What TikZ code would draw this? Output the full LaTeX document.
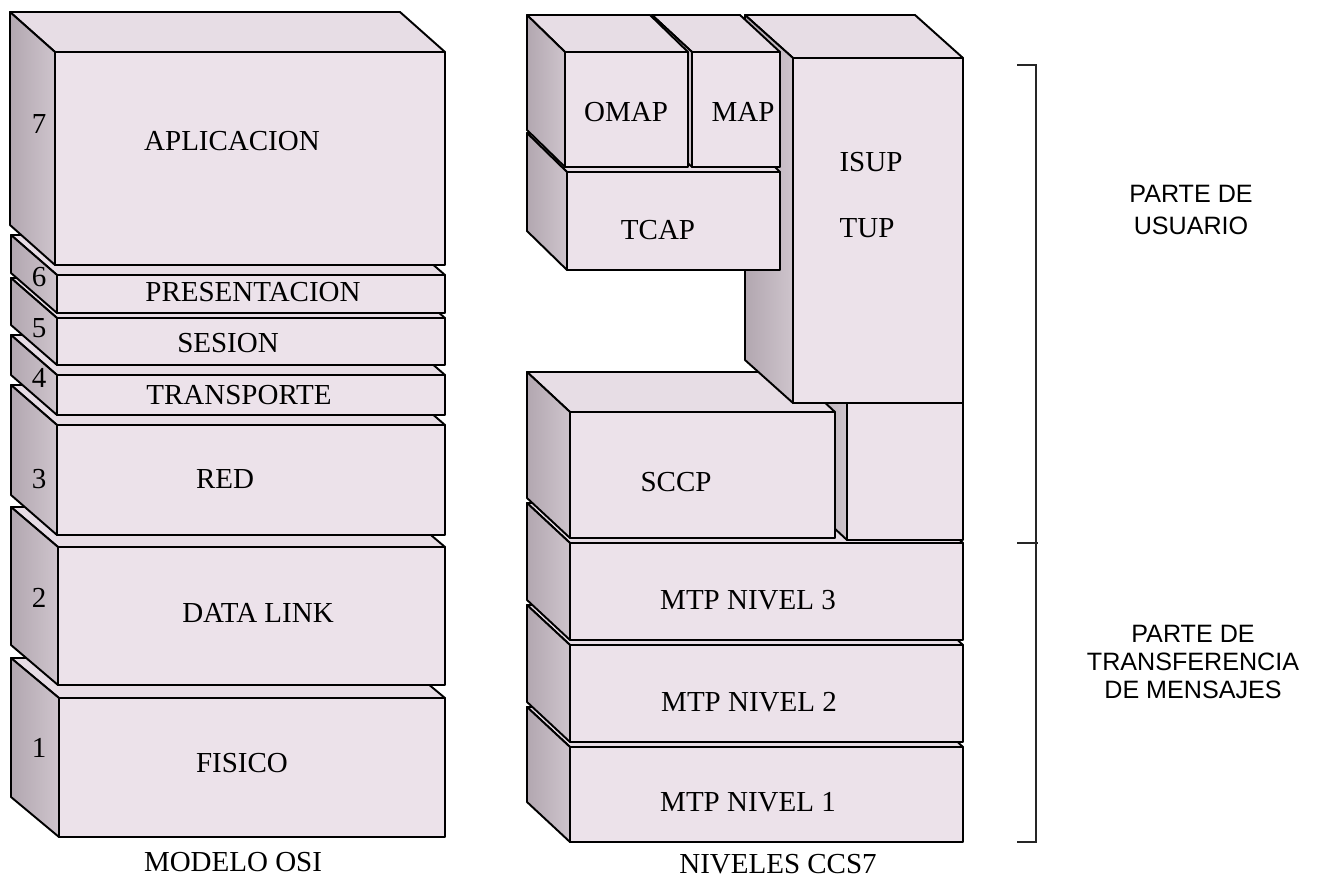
\documentclass[tikz,border=0pt]{standalone}
\usepackage{fontspec}
\setmainfont{Liberation Serif}
\newfontfamily\ladofont{Liberation Sans}
\usetikzlibrary{positioning}

\definecolor{caraf}{RGB}{236,226,234}
\definecolor{carat}{RGB}{231,221,229}
\definecolor{ladoa}{RGB}{178,167,176}
\definecolor{ladob}{RGB}{206,196,204}

% bloque 3D: esquina sup-izq y inf-der de la cara frontal, profundidad dx dy (px)
\newcommand{\bloque}[6]{%
  \draw[sup]   (#1,#2) -- ++(-#5,-#6) -- ++({#3-#1},0) -- (#3,#2) -- cycle;
  \draw[lado]  (#1,#2) -- ++(-#5,-#6) -- ++(0,{#4-#2}) -- (#1,#4) -- cycle;
  \draw[frente] (#1,#2) rectangle (#3,#4);
}

\begin{document}
\begin{tikzpicture}[
  x=0.02cm, y=-0.02cm,
  frente/.style={fill=caraf, draw=black, line width=1.1pt, line join=round},
  sup/.style={fill=carat, draw=black, line width=1.1pt, line join=round},
  lado/.style={left color=ladoa, right color=ladob, draw=black, line width=1.1pt, line join=round},
  etiq/.style={font=\fontsize{16.5}{18}\selectfont, inner sep=0pt},
  parte/.style={font=\ladofont\fontsize{14.3}{16.2}\selectfont, align=center, inner sep=0pt},
  corchete/.style={draw=black!85, line width=1.2pt}
]
\useasboundingbox (0,0) rectangle (1318,880);

% modelo OSI, de abajo hacia arriba
\bloque{59}{698}{445}{837}{48}{40}
\bloque{58}{547}{445}{685}{47}{40}
\bloque{57}{425}{445}{535}{46}{40}
\bloque{57}{375}{445}{415}{46}{40}
\bloque{57}{318}{445}{365}{46}{40}
\bloque{57}{275}{445}{313}{46}{40}
\bloque{55}{52}{445}{265}{45}{40}

\node[etiq] (n1) at (39,748) {1};
\node[etiq] (n2) at (39,598) {2};
\node[etiq] (n3) at (39,479) {3};
\node[etiq] (n4) at (39,378) {4};
\node[etiq] (n5) at (39,328) {5};
\node[etiq] (n6) at (39,277) {6};
\node[etiq] (n7) at (39,124) {7};

\node[etiq] (fis)  at (242,763) {FISICO};
\node[etiq] (dl)   at (258,613) {DATA LINK};
\node[etiq] (red)  at (225,479) {RED};
\node[etiq] (tra)  at (239,395) {TRANSPORTE};
\node[etiq] (ses)  at (228,343) {SESION};
\node[etiq] (pre)  at (253,292) {PRESENTACION};
\node[etiq] (apl)  at (232,141) {APLICACION};
\node[etiq] (osi)  at (233,862) {MODELO OSI};

% niveles CCS7
\bloque{570}{747}{963}{842}{43}{40}
\bloque{570}{645}{963}{742}{43}{40}
\bloque{570}{543}{963}{640}{43}{40}
\bloque{847}{403}{963}{540}{43}{40}
\bloque{570}{412}{835}{538}{43}{40}
\bloque{793}{58}{963}{403}{48}{43}
\bloque{567}{172}{780}{270}{40}{39}
\bloque{692}{52}{780}{167}{40}{37}
\bloque{565}{52}{688}{167}{38}{37}

\node[etiq] (mtp1) at (748,802) {MTP NIVEL 1};
\node[etiq] (mtp2) at (749,702) {MTP NIVEL 2};
\node[etiq] (mtp3) at (748,600) {MTP NIVEL 3};
\node[etiq] (sccp) at (676,482) {SCCP};
\node[etiq] (tcap) at (658,230) {TCAP};
\node[etiq] (omap) at (626,112) {OMAP};
\node[etiq] (map)  at (743,112) {MAP};
\node[etiq] (isup) at (871,162) {ISUP};
\node[etiq] (tup)  at (867,228) {TUP};
\node[etiq] (ccs)  at (778,864) {NIVELES CCS7};

% corchete de partes
\draw[corchete] (1017,65) -- (1036,65) -- (1036,842) -- (1017,842);
\draw[corchete] (1017,543) -- (1038,543);

\node[parte] (usu) at (1191,210) {PARTE DE\\[1.9pt]USUARIO};
\node[parte] (mtp) at (1193,662) {PARTE DE\\TRANSFERENCIA\\DE MENSAJES};
\end{tikzpicture}
\end{document}
